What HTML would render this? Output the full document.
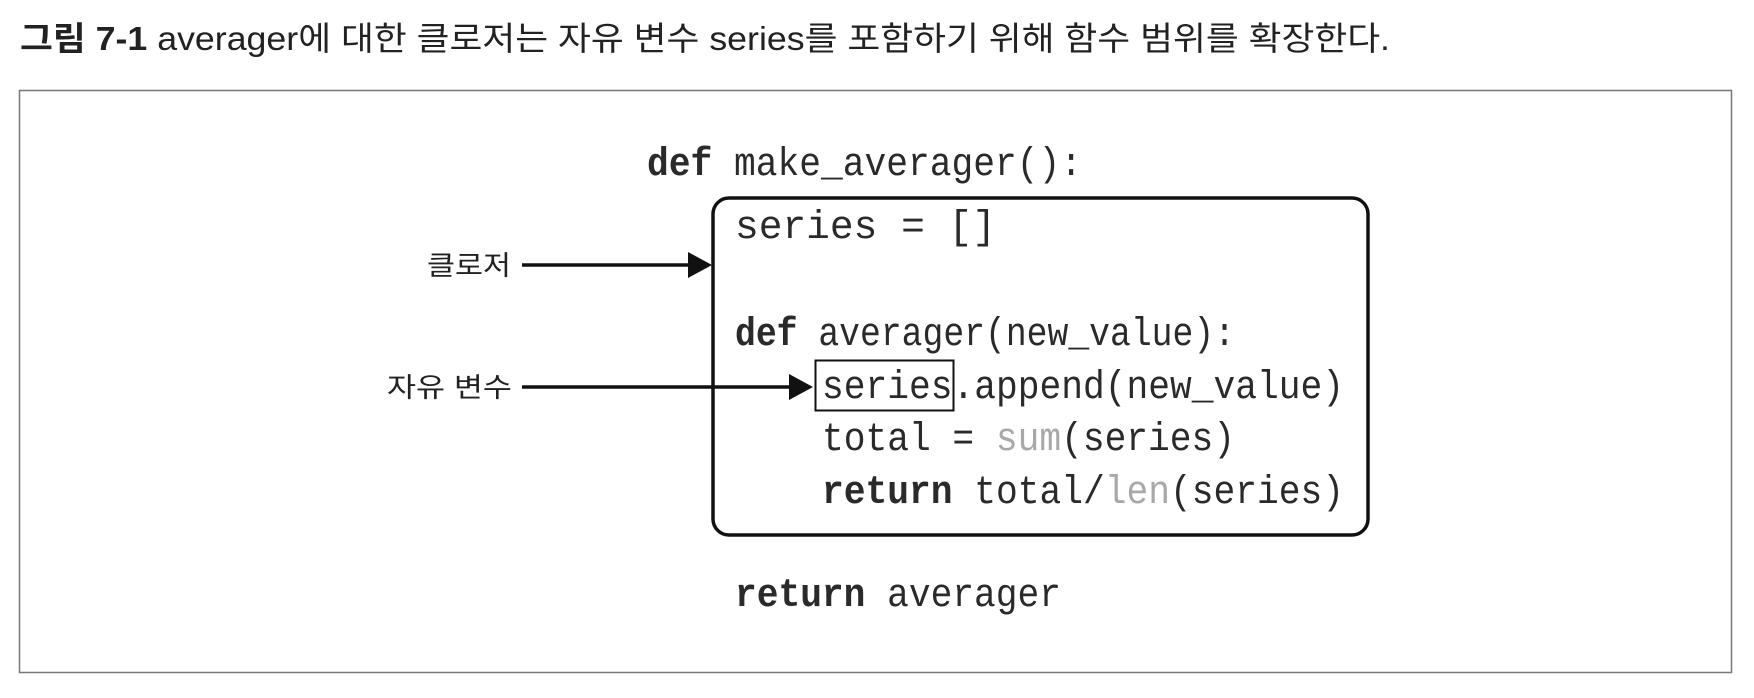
<!DOCTYPE html>
<html><head><meta charset="utf-8"><style>
html,body{margin:0;padding:0;background:#fff;width:1754px;height:698px;overflow:hidden}
svg{display:block}
.c{font-family:"Liberation Mono",monospace;font-size:40px;fill:#2a2a2a}
.b{font-weight:bold}
.g{fill:#a8a8a8}
.k{font-family:"Liberation Sans","Noto Sans CJK KR",sans-serif;font-size:27px;fill:#222}
</style></head><body>
<svg width="1754" height="698" viewBox="0 0 1754 698" xmlns="http://www.w3.org/2000/svg">
<text x="20" y="50" textLength="1370" lengthAdjust="spacingAndGlyphs" style="font-family:'Liberation Sans','Noto Sans CJK KR',sans-serif;font-size:33px;fill:#222"><tspan font-weight="bold">그림 7-1</tspan> averager에 대한 클로저는 자유 변수 series를 포함하기 위해 함수 범위를 확장한다.</text>
<rect x="19.5" y="90.5" width="1712" height="582" fill="none" stroke="#777" stroke-width="1.5"/>
<rect x="713" y="198" width="655" height="337" rx="16" fill="none" stroke="#111" stroke-width="3.5"/>
<text class="c" x="647" y="175" textLength="435" lengthAdjust="spacingAndGlyphs"><tspan class="b">def</tspan> make_averager():</text>
<text class="c" x="735" y="238" textLength="261" lengthAdjust="spacingAndGlyphs">series = []</text>
<text class="c" x="735" y="345" textLength="500" lengthAdjust="spacingAndGlyphs"><tspan class="b">def</tspan> averager(new_value):</text>
<text class="c" x="822" y="398" textLength="522" lengthAdjust="spacingAndGlyphs">series.append(new_value)</text>
<text class="c" x="822" y="450" textLength="413" lengthAdjust="spacingAndGlyphs">total = <tspan class="g">sum</tspan>(series)</text>
<text class="c" x="822" y="503" textLength="522" lengthAdjust="spacingAndGlyphs"><tspan class="b">return</tspan> total/<tspan class="g">len</tspan>(series)</text>
<text class="c" x="735" y="606" textLength="326" lengthAdjust="spacingAndGlyphs"><tspan class="b">return</tspan> averager</text>
<rect x="815.5" y="360.5" width="138" height="50" fill="none" stroke="#111" stroke-width="2"/>
<text class="k" x="427" y="275" textLength="84" lengthAdjust="spacingAndGlyphs">클로저</text>
<line x1="522" y1="265" x2="692" y2="265" stroke="#111" stroke-width="3.5"/>
<polygon points="688,252 712,265 688,278" fill="#111"/>
<text class="k" x="387" y="397" textLength="125" lengthAdjust="spacingAndGlyphs">자유 변수</text>
<line x1="522" y1="387" x2="792" y2="387" stroke="#111" stroke-width="3.5"/>
<polygon points="789,374 813,387 789,400" fill="#111"/>
</svg>
</body></html>
